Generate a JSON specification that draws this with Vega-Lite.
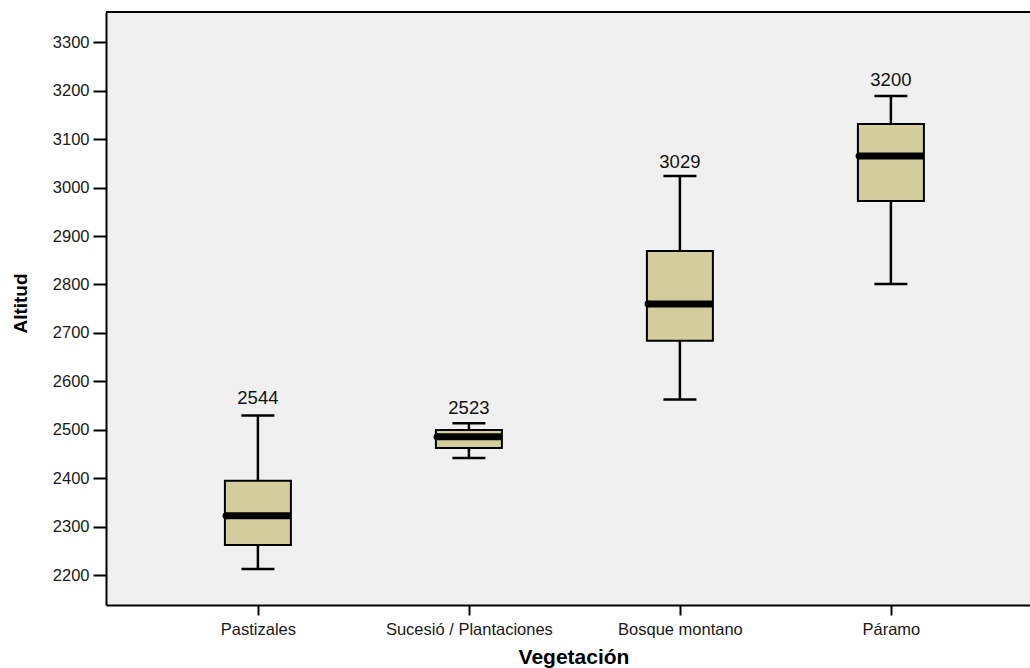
{
  "$schema": "https://vega.github.io/schema/vega-lite/v6.json",
  "width": 924,
  "height": 593,
  "autosize": {"type": "none"},
  "padding": {"left": 106, "top": 12, "right": 0, "bottom": 63},
  "background": "white",
  "config": {
    "view": {"fill": "#f0f0f0", "stroke": null},
    "font": "Liberation Sans",
    "axis": {
      "domainColor": "#000000",
      "domainWidth": 2,
      "tickColor": "#000000",
      "tickWidth": 2,
      "grid": false,
      "labelColor": "#1a1a1a",
      "labelFont": "Liberation Sans",
      "titleFont": "Liberation Sans",
      "titleColor": "#000000"
    }
  },
  "data": {
    "values": [
      {"veg": "Pastizales", "lower": 2213, "q1": 2263, "median": 2323, "q3": 2395, "upper": 2530, "label": 2544},
      {"veg": "Sucesió / Plantaciones", "lower": 2442, "q1": 2463, "median": 2486, "q3": 2500, "upper": 2514, "label": 2523},
      {"veg": "Bosque montano", "lower": 2563, "q1": 2684, "median": 2760, "q3": 2869, "upper": 3024, "label": 3029},
      {"veg": "Páramo", "lower": 2801, "q1": 2972, "median": 3065, "q3": 3131, "upper": 3189, "label": 3200}
    ]
  },
  "layer": [
    {
      "mark": {"type": "rule", "color": "#000000", "strokeWidth": 2},
      "encoding": {"y": {"datum": 3362, "type": "quantitative"}}
    },
    {
      "mark": {"type": "rule", "color": "#000000", "strokeWidth": 2.5},
      "encoding": {
        "x": {
          "field": "veg",
          "type": "nominal",
          "sort": null,
          "scale": {"type": "point", "padding": 0.6896, "align": 0.522},
          "axis": {
            "title": "Vegetación",
            "labelAngle": 0,
            "labelFontSize": 16.5,
            "labelPadding": 6,
            "tickSize": 10,
            "titleFontSize": 21,
            "titleFontWeight": "bold",
            "titleX": 467.5,
            "titleY": 58,
            "titleBaseline": "alphabetic",
            "titleAlign": "center"
          }
        },
        "y": {
          "field": "lower",
          "type": "quantitative",
          "scale": {"domain": [2139, 3362], "nice": false, "zero": false},
          "axis": {
            "title": "Altitud",
            "format": "d",
            "values": [2200, 2300, 2400, 2500, 2600, 2700, 2800, 2900, 3000, 3100, 3200, 3300],
            "labelFontSize": 16.5,
            "labelPadding": 4,
            "tickSize": 13,
            "titleFontSize": 19,
            "titleFontWeight": "bold",
            "titleX": -86,
            "titleY": 291,
            "titleAlign": "center",
            "titleBaseline": "middle",
            "titleAngle": -90
          }
        },
        "y2": {"field": "upper"}
      }
    },
    {
      "mark": {"type": "tick", "color": "#000000", "size": 33, "thickness": 2.5, "opacity": 1},
      "encoding": {
        "x": {"field": "veg", "type": "nominal", "sort": null},
        "y": {"field": "lower", "type": "quantitative"}
      }
    },
    {
      "mark": {"type": "tick", "color": "#000000", "size": 33, "thickness": 2.5, "opacity": 1},
      "encoding": {
        "x": {"field": "veg", "type": "nominal", "sort": null},
        "y": {"field": "upper", "type": "quantitative"}
      }
    },
    {
      "mark": {"type": "bar", "size": 66, "fill": "#d3ce9b", "stroke": "#000000", "strokeWidth": 2},
      "encoding": {
        "x": {"field": "veg", "type": "nominal", "sort": null},
        "y": {"field": "q1", "type": "quantitative"},
        "y2": {"field": "q3"}
      }
    },
    {
      "mark": {"type": "tick", "color": "#000000", "size": 66, "thickness": 7, "opacity": 1},
      "encoding": {
        "x": {"field": "veg", "type": "nominal", "sort": null},
        "y": {"field": "median", "type": "quantitative"}
      }
    },
    {
      "mark": {"type": "point", "shape": "circle", "filled": true, "color": "#000000", "size": 45, "opacity": 1, "xOffset": -32},
      "encoding": {
        "x": {"field": "veg", "type": "nominal", "sort": null},
        "y": {"field": "median", "type": "quantitative"}
      }
    },
    {
      "mark": {"type": "text", "fontSize": 18.5, "color": "#111111", "baseline": "alphabetic", "dy": -5},
      "encoding": {
        "x": {"field": "veg", "type": "nominal", "sort": null},
        "y": {"field": "label", "type": "quantitative"},
        "text": {"field": "label", "type": "quantitative", "format": "d"}
      }
    }
  ]
}
